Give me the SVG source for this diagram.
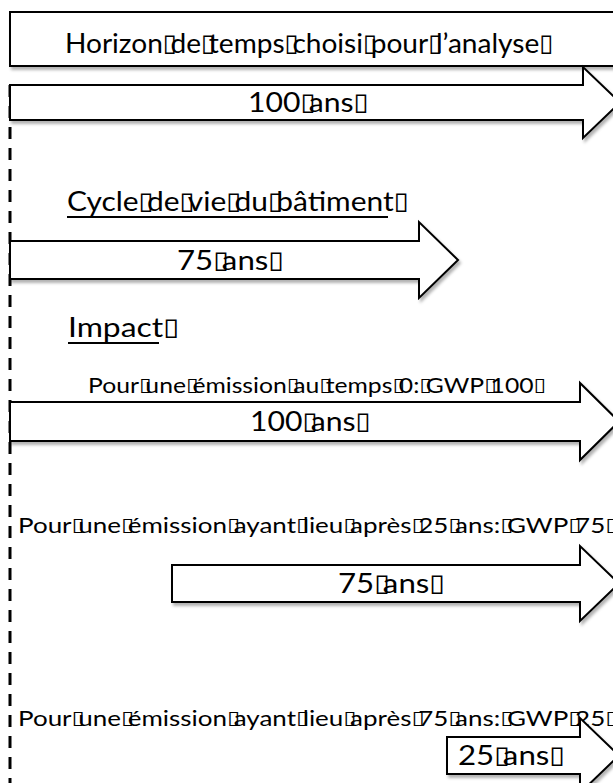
<svg xmlns="http://www.w3.org/2000/svg" width="613" height="783" viewBox="0 0 613 783">
<style>
.shape{fill:#fff;stroke:#000;stroke-width:2;filter:url(#sh)}
.big{font-family:Lato,"Liberation Sans",sans-serif;font-size:26px;fill:#000}
.small{font-family:Lato,"Liberation Sans",sans-serif;font-size:21px;fill:#000}
.q{font-family:"DejaVu Sans",sans-serif;font-size:24px;letter-spacing:-6px;fill:#000;baseline-shift:2px}
.qs{font-family:"DejaVu Sans",sans-serif;font-size:19px;letter-spacing:-5px;fill:#000;baseline-shift:2px}
.ul{stroke:#000;stroke-width:2}
</style>
<defs>
<filter id="sh" x="-10%" y="-30%" width="130%" height="180%">
<feDropShadow dx="2" dy="3" stdDeviation="1.5" flood-color="#000" flood-opacity="0.3"/>
</filter>
</defs>
<rect width="613" height="783" fill="#fff"/>
<g id="connectors">
<line x1="10" y1="85" x2="10" y2="783" stroke="#000" stroke-width="3" stroke-dasharray="12 9"/>
</g>
<g id="horizon">
<rect class="shape" x="10" y="12" width="620" height="54"/>
<text class="big" x="65" y="53" textLength="482" lengthAdjust="spacingAndGlyphs">Horizon<tspan class="q">▯</tspan>de<tspan class="q">▯</tspan>temps<tspan class="q">▯</tspan>choisi<tspan class="q">▯</tspan>pour<tspan class="q">▯</tspan>l’analyse<tspan class="q">▯</tspan></text>
</g>
<g id="arrow100a">
<polygon class="shape" points="10,85 583,85 583,67 620,102.5 583,138 583,120 10,120"/>
<text class="big" x="248" y="112" textLength="114" lengthAdjust="spacingAndGlyphs">100<tspan class="q">▯</tspan>ans<tspan class="q">▯</tspan></text>
</g>
<g id="cycle">
<text class="big" x="67" y="211" textLength="335" lengthAdjust="spacingAndGlyphs">Cycle<tspan class="q">▯</tspan>de<tspan class="q">▯</tspan>vie<tspan class="q">▯</tspan>du<tspan class="q">▯</tspan>bâtiment<tspan class="q">▯</tspan></text>
<line class="ul" x1="67" y1="217" x2="388" y2="217"/>
</g>
<g id="arrow75a">
<polygon class="shape" points="10,241 419,241 419,222 458,260 419,298 419,279 10,279"/>
<text class="big" x="177" y="270" textLength="100" lengthAdjust="spacingAndGlyphs">75<tspan class="q">▯</tspan>ans<tspan class="q">▯</tspan></text>
</g>
<g id="impact">
<text class="big" x="68" y="337" textLength="104" lengthAdjust="spacingAndGlyphs">Impact<tspan class="q">▯</tspan></text>
<line class="ul" x1="68" y1="343" x2="159" y2="343"/>
</g>
<g id="label0">
<text class="small" x="88" y="393" textLength="452" lengthAdjust="spacingAndGlyphs">Pour<tspan class="qs">▯</tspan>une<tspan class="qs">▯</tspan>émission<tspan class="qs">▯</tspan>au<tspan class="qs">▯</tspan>temps<tspan class="qs">▯</tspan>0:<tspan class="qs">▯</tspan>GWP<tspan class="qs">▯</tspan>100<tspan class="qs">▯</tspan></text>
</g>
<g id="arrow100b">
<polygon class="shape" points="10,402 580,402 580,383 619,421.5 580,460 580,441 10,441"/>
<text class="big" x="250" y="431" textLength="114" lengthAdjust="spacingAndGlyphs">100<tspan class="q">▯</tspan>ans<tspan class="q">▯</tspan></text>
</g>
<g id="label25">
<text class="small" x="18" y="533" textLength="594" lengthAdjust="spacingAndGlyphs">Pour<tspan class="qs">▯</tspan>une<tspan class="qs">▯</tspan>émission<tspan class="qs">▯</tspan>ayant<tspan class="qs">▯</tspan>lieu<tspan class="qs">▯</tspan>après<tspan class="qs">▯</tspan>25<tspan class="qs">▯</tspan>ans:<tspan class="qs">▯</tspan>GWP<tspan class="qs">▯</tspan>75<tspan class="qs">▯</tspan></text>
</g>
<g id="arrow75b">
<polygon class="shape" points="172,565 580,565 580,546 619,583.5 580,621 580,602 172,602"/>
<text class="big" x="338" y="593" textLength="100" lengthAdjust="spacingAndGlyphs">75<tspan class="q">▯</tspan>ans<tspan class="q">▯</tspan></text>
</g>
<g id="label75">
<text class="small" x="18" y="726" textLength="594" lengthAdjust="spacingAndGlyphs">Pour<tspan class="qs">▯</tspan>une<tspan class="qs">▯</tspan>émission<tspan class="qs">▯</tspan>ayant<tspan class="qs">▯</tspan>lieu<tspan class="qs">▯</tspan>après<tspan class="qs">▯</tspan>75<tspan class="qs">▯</tspan>ans:<tspan class="qs">▯</tspan>GWP<tspan class="qs">▯</tspan>25<tspan class="qs">▯</tspan></text>
</g>
<g id="arrow25">
<polygon class="shape" points="447,737 580,737 580,718 619,755.5 580,793 580,774 447,774"/>
<text class="big" x="458" y="765" textLength="100" lengthAdjust="spacingAndGlyphs">25<tspan class="q">▯</tspan>ans<tspan class="q">▯</tspan></text>
</g>
</svg>
